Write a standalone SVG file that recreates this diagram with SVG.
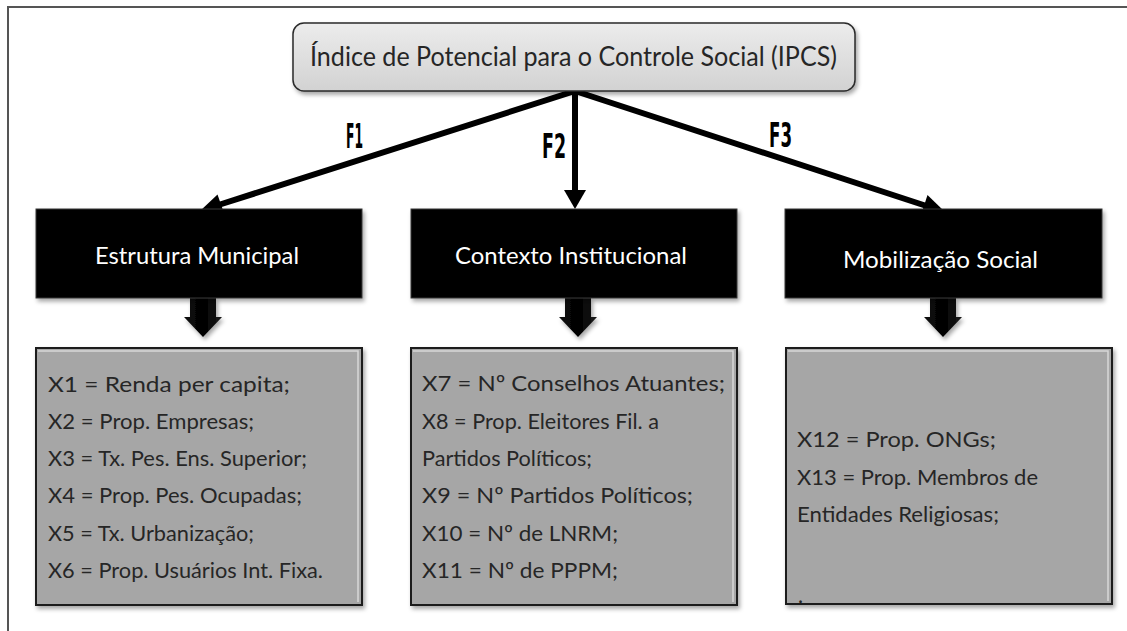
<svg xmlns="http://www.w3.org/2000/svg" width="1127" height="631" viewBox="0 0 1127 631">
  <defs>
    <filter id="shadow" x="-10%" y="-10%" width="130%" height="140%">
      <feDropShadow dx="2" dy="3" stdDeviation="2" flood-color="#000" flood-opacity="0.35"/>
    </filter>
    <linearGradient id="titleGrad" x1="0" y1="0" x2="0" y2="1">
      <stop offset="0" stop-color="#ececec"/>
      <stop offset="1" stop-color="#d2d2d2"/>
    </linearGradient>
    <linearGradient id="blockGrad" x1="0" y1="0" x2="1" y2="0">
      <stop offset="0" stop-color="#111"/>
      <stop offset="0.5" stop-color="#000"/>
      <stop offset="1" stop-color="#1a1a1a"/>
    </linearGradient>
  </defs>
  <style>
    .frame { stroke: #555; stroke-width: 2; fill: none; }
    .title { fill: url(#titleGrad); stroke: #2a2a2a; stroke-width: 1.5; }
    .head { fill: #000; stroke: #3a3a3a; stroke-width: 1; }
    .body { fill: #a6a6a6; stroke: #1a1a1a; stroke-width: 2; }
    .hi { fill: none; stroke: #d8d8d8; stroke-width: 1.5; }
    .t { font-family: Lato, "Open Sans", sans-serif; }
    .tt { font-size: 26px; fill: #262626; }
    .ht { font-size: 23px; fill: #fff; }
    .bt { font-size: 21.5px; fill: #262626; }
    .fl { font-family: "DejaVu Sans", sans-serif; font-weight: bold; font-size: 33px; fill: #000; }
    .ln { stroke: #000; stroke-width: 6; fill: none; stroke-linecap: round; }
    .ah { fill: #000; }
    .blk { fill: url(#blockGrad); filter: url(#shadow); }
  </style>

  <path class="frame" d="M8,631 L8,7 L1127,7"/>

  <g id="connectors">
    <line class="ln" x1="575" y1="91" x2="220" y2="204.5"/>
    <polygon class="ah" points="200,211 224.5,214.5 217.5,194.5"/>
    <line class="ln" x1="575" y1="91" x2="575" y2="192" style="stroke-linecap:butt"/>
    <polygon class="ah" points="564,190 586,190 575,209"/>
    <line class="ln" x1="575" y1="91" x2="925" y2="205.5"/>
    <polygon class="ah" points="945,212 921,215 927.5,195"/>
    <text class="fl" x="346" y="148" textLength="17" lengthAdjust="spacingAndGlyphs">F1</text>
    <text class="fl" x="542" y="158" textLength="24" lengthAdjust="spacingAndGlyphs">F2</text>
    <text class="fl" x="769" y="147" textLength="23" lengthAdjust="spacingAndGlyphs">F3</text>
    <polygon class="blk" points="190,298 216,298 216,317 222,317 203,337 184,317 190,317"/>
    <polygon class="blk" points="565,298 591,298 591,317 597,317 578,337 559,317 565,317"/>
    <polygon class="blk" points="930,298 956,298 956,317 962,317 943,337 924,317 930,317"/>
  </g>

  <g id="node-ipcs">
    <rect class="title" x="293" y="23" width="562" height="68" rx="11" filter="url(#shadow)"/>
    <text class="t tt" x="310" y="66" textLength="527" lengthAdjust="spacingAndGlyphs">Índice de Potencial para o Controle Social (IPCS)</text>
  </g>

  <g id="node-estrutura">
    <rect class="head" x="36" y="209" width="326" height="89" filter="url(#shadow)"/>
    <text class="t ht" x="95" y="264" textLength="204" lengthAdjust="spacingAndGlyphs">Estrutura Municipal</text>
  </g>
  <g id="node-contexto">
    <rect class="head" x="411" y="209" width="326" height="89" filter="url(#shadow)"/>
    <text class="t ht" x="455" y="264" textLength="232" lengthAdjust="spacingAndGlyphs">Contexto Institucional</text>
  </g>
  <g id="node-mobilizacao">
    <rect class="head" x="785" y="209" width="317" height="89" filter="url(#shadow)"/>
    <text class="t ht" x="843" y="268" textLength="195" lengthAdjust="spacingAndGlyphs">Mobilização Social</text>
  </g>

  <g id="node-vars-estrutura">
    <rect class="body" x="36" y="348" width="326" height="257" filter="url(#shadow)"/>
    <path class="hi" d="M38,351 L358,351 L358,602"/>
    <text class="t bt" x="48" y="392" textLength="242" lengthAdjust="spacingAndGlyphs">X1 = Renda per capita;</text>
    <text class="t bt" x="48" y="429" textLength="206" lengthAdjust="spacingAndGlyphs">X2 = Prop. Empresas;</text>
    <text class="t bt" x="48" y="466" textLength="259" lengthAdjust="spacingAndGlyphs">X3 = Tx. Pes. Ens. Superior;</text>
    <text class="t bt" x="48" y="503" textLength="254" lengthAdjust="spacingAndGlyphs">X4 = Prop. Pes. Ocupadas;</text>
    <text class="t bt" x="48" y="541" textLength="206" lengthAdjust="spacingAndGlyphs">X5 = Tx. Urbanização;</text>
    <text class="t bt" x="48" y="578" textLength="275" lengthAdjust="spacingAndGlyphs">X6 = Prop. Usuários Int. Fixa.</text>
  </g>

  <g id="node-vars-contexto">
    <rect class="body" x="411" y="348" width="326" height="257" filter="url(#shadow)"/>
    <path class="hi" d="M413,351 L733,351 L733,602"/>
    <text class="t bt" x="422" y="391" textLength="303" lengthAdjust="spacingAndGlyphs">X7 = Nº Conselhos Atuantes;</text>
    <text class="t bt" x="422" y="429" textLength="237" lengthAdjust="spacingAndGlyphs">X8 = Prop. Eleitores Fil. a</text>
    <text class="t bt" x="422" y="466" textLength="170" lengthAdjust="spacingAndGlyphs">Partidos Políticos;</text>
    <text class="t bt" x="422" y="503" textLength="271" lengthAdjust="spacingAndGlyphs">X9 = Nº Partidos Políticos;</text>
    <text class="t bt" x="422" y="541" textLength="196" lengthAdjust="spacingAndGlyphs">X10 = Nº de LNRM;</text>
    <text class="t bt" x="422" y="578" textLength="196" lengthAdjust="spacingAndGlyphs">X11 = Nº de PPPM;</text>
  </g>

  <g id="node-vars-mobilizacao">
    <rect class="body" x="786" y="348" width="326" height="256" filter="url(#shadow)"/>
    <path class="hi" d="M788,351 L1108,351 L1108,601"/>
    <text class="t bt" x="797" y="447" textLength="199" lengthAdjust="spacingAndGlyphs">X12 = Prop. ONGs;</text>
    <text class="t bt" x="797" y="485" textLength="241" lengthAdjust="spacingAndGlyphs">X13 = Prop. Membros de</text>
    <text class="t bt" x="797" y="522" textLength="202" lengthAdjust="spacingAndGlyphs">Entidades Religiosas;</text>
    <text class="t bt" x="798" y="603">.</text>
  </g>
</svg>
